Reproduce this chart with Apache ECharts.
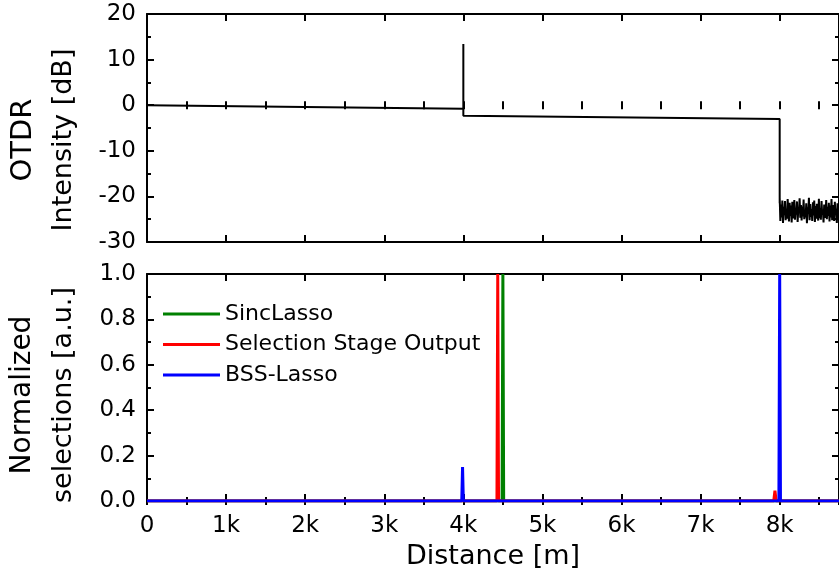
<!DOCTYPE html>
<html>
<head>
<meta charset="utf-8">
<script src="https://cdn.jsdelivr.net/npm/echarts@6/dist/echarts.min.js"></script>
<style>
  html, body { margin: 0; padding: 0; background: #fff; }
  #chart { width: 839px; height: 573px; }
</style>
</head>
<body>
<div id="chart"></div>
<script>
// OTDR trace (distance in m, intensity in dB)
var otdrDist = [0, 4000, 4000, 4000, 8000, 8000];
var otdrDb = [0, -0.8, 13.4, -2.3, -3.0, -21.5];
// noise floor after the fiber end, one value every 8.4 m from 8000 m
var noiseStart = 8000;
var noiseStep = 8.4;
var noiseDb = [-20.2, -25.4, -21.8, -24.6, -20.9, -25.8, -22.3, -24.1, -21.0, -25.2,
  -22.7, -24.9, -20.6, -23.6, -25.5, -21.4, -24.3, -22.0, -25.7, -21.2,
  -23.9, -24.8, -20.8, -25.1, -22.5, -24.0, -21.1, -25.6, -22.9, -23.4,
  -20.4, -24.7, -21.9, -25.3, -22.2, -24.4, -20.7, -25.0, -23.1, -24.6,
  -21.5, -25.9, -22.4, -23.8, -20.3, -25.2, -21.7, -24.5, -22.8, -25.4,
  -21.3, -24.2, -20.9, -25.6, -22.1, -24.9, -21.6, -23.7, -25.3, -20.5,
  -24.8, -22.6, -25.1, -21.0, -24.0, -22.9, -25.7, -21.8, -23.5, -24.7,
  -20.8, -25.0, -22.3, -24.3, -21.4, -25.5, -22.0, -24.6, -20.6, -25.2,
  -21.9, -23.9, -25.4, -21.2, -24.1, -22.7, -25.8, -21.5, -24.4, -22.2];

// normalized selections
var sincDist = [0, 4490, 4500, 4510, 8750];
var sincVal = [0, 0, 1, 0, 0];
var selDist = [0, 4425, 4435, 4445, 7925, 7940, 7955, 8750];
var selVal = [0, 0, 1, 0, 0, 0.045, 0, 0];
var bssDist = [0, 3980, 3990, 4000, 7990, 8000, 8010, 8750];
var bssVal = [0, 0, 0.15, 0, 0, 1, 0, 0];

var seriesNames = ['SincLasso', 'Selection Stage Output', 'BSS-Lasso'];
var distLabels = ['0', '1k', '2k', '3k', '4k', '5k', '6k', '7k', '8k'];

function pairs(xs, ys) {
  var out = [];
  for (var i = 0; i < xs.length; i++) out.push([xs[i], ys[i]]);
  return out;
}

var otdrData = pairs(otdrDist, otdrDb);
for (var i = 0; i < noiseDb.length; i++) {
  otdrData.push([noiseStart + i * noiseStep, noiseDb[i]]);
}

var FONT = 'DejaVu Sans';
var line = { show: true, onZero: false, lineStyle: { color: '#000', width: 2 } };

function xAxisFor(grid, pos, major, labels) {
  return {
    type: 'value', gridIndex: grid, position: pos,
    min: 0, max: 8750, interval: major ? 1000 : 500,
    axisLine: major ? line : { show: false },
    axisTick: { show: true, inside: true, length: major ? 7 : 4,
      lineStyle: { color: '#000', width: 2 } },
    axisLabel: {
      show: labels, showMaxLabel: false, margin: 14,
      color: '#000', fontSize: 23, fontFamily: FONT,
      formatter: function (v) { return distLabels[v / 1000]; }
    },
    splitLine: { show: false },
    name: labels ? 'Distance [m]' : '',
    nameLocation: 'middle', nameGap: 42,
    nameTextStyle: { color: '#000', fontSize: 27, fontFamily: FONT }
  };
}

function yAxisFor(grid, pos, min, max, interval, labels, fmt) {
  return {
    type: 'value', gridIndex: grid, position: pos,
    min: min, max: max, interval: interval,
    axisLine: line,
    axisTick: { show: true, inside: true, length: 7,
      lineStyle: { color: '#000', width: 2 } },
    minorTick: { show: true, splitNumber: 2, length: 4,
      lineStyle: { color: '#000', width: 2 } },
    axisLabel: { show: labels, margin: 11, color: '#000',
      fontSize: 23, fontFamily: FONT, formatter: fmt },
    splitLine: { show: false }
  };
}

function yName(text, x, y, size) {
  return {
    type: 'text', x: x, y: y, rotation: Math.PI / 2,
    style: { text: text, fill: '#000', fontSize: size, fontFamily: FONT,
      align: 'center', verticalAlign: 'middle' }
  };
}

var chart = echarts.init(document.getElementById('chart'));

var option = {
  animation: false,
  backgroundColor: '#fff',
  grid: [
    { left: 147, top: 14, width: 694, height: 228 },
    { left: 147, top: 274, width: 694, height: 227 }
  ],
  xAxis: [
    xAxisFor(0, 'bottom', true, false),
    xAxisFor(0, 'bottom', false, false),
    xAxisFor(0, 'top', true, false),
    xAxisFor(0, 'top', false, false),
    xAxisFor(1, 'bottom', true, true),
    xAxisFor(1, 'bottom', false, false),
    xAxisFor(1, 'top', true, false),
    xAxisFor(1, 'top', false, false)
  ],
  yAxis: [
    yAxisFor(0, 'left', -30, 20, 10, true, function (v) { return String(v); }),
    yAxisFor(0, 'right', -30, 20, 10, false),
    yAxisFor(1, 'left', 0, 1, 0.2, true, function (v) { return v.toFixed(1); }),
    yAxisFor(1, 'right', 0, 1, 0.2, false)
  ],
  legend: {
    data: seriesNames,
    orient: 'vertical', left: 158, top: 294,
    icon: 'rect', itemWidth: 57, itemHeight: 3, itemGap: 0.5,
    textStyle: { color: '#000', fontSize: 22, fontFamily: FONT, lineHeight: 30 },
    selectedMode: false
  },
  graphic: [
    yName('OTDR', 23, 140, 29),
    yName('Intensity [dB]', 64, 140, 27),
    yName('Normalized', 23, 395, 28),
    yName('selections [a.u.]', 64, 395, 27)
  ],
  series: [
    {
      name: 'OTDR', type: 'line', xAxisIndex: 0, yAxisIndex: 0,
      data: otdrData, symbol: 'none',
      lineStyle: { color: '#000', width: 2 }
    },
    {
      name: seriesNames[0], type: 'line', xAxisIndex: 4, yAxisIndex: 2,
      data: pairs(sincDist, sincVal), symbol: 'none',
      itemStyle: { color: '#008000' },
      lineStyle: { color: '#008000', width: 3 }
    },
    {
      name: seriesNames[1], type: 'line', xAxisIndex: 4, yAxisIndex: 2,
      data: pairs(selDist, selVal), symbol: 'none',
      itemStyle: { color: '#ff0000' },
      lineStyle: { color: '#ff0000', width: 3 }
    },
    {
      name: seriesNames[2], type: 'line', xAxisIndex: 4, yAxisIndex: 2,
      data: pairs(bssDist, bssVal), symbol: 'none',
      itemStyle: { color: '#0000ff' },
      lineStyle: { color: '#0000ff', width: 3 }
    }
  ]
};

chart.setOption(option);
</script>
</body>
</html>
